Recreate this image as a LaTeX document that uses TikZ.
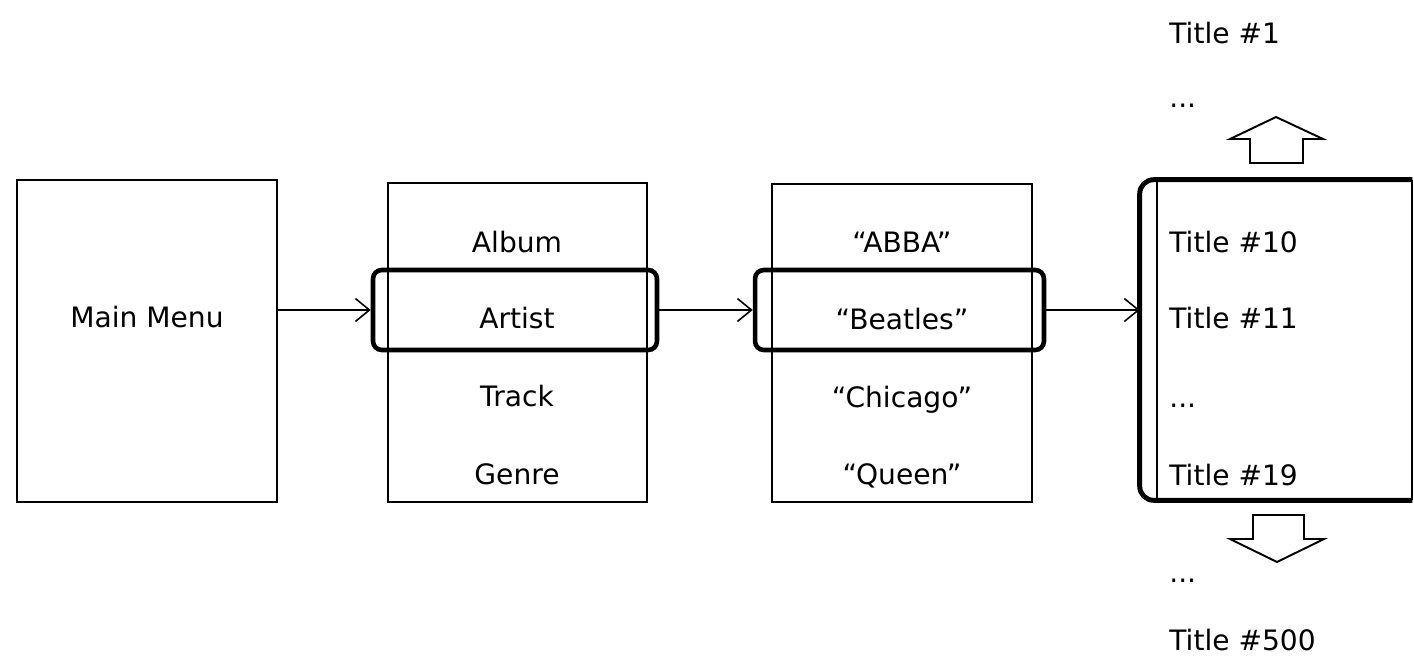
\documentclass[tikz,border=0pt]{standalone}
\usepackage{fontspec}
\setmainfont{DejaVu Sans}
\usetikzlibrary{arrows.meta}
\begin{document}
\begin{tikzpicture}[x=0.02cm,y=-0.02cm,
  font=\fontsize{16}{19}\selectfont,
  panel/.style={draw, line width=1.1pt, inner sep=0pt},
  pick/.style={draw, line width=2.6pt, rounded corners=5pt, inner sep=0pt},
  entry/.style={anchor=base, inner sep=0pt},
  title/.style={anchor=base west, inner sep=0pt},
  link/.style={line width=0.9pt, -{Straight Barb[length=8pt,width=13pt,line width=0.9pt]}},
  blockarrow/.style={draw, line width=1.1pt, line join=miter}]
\useasboundingbox (0,0) rectangle (1414,659);

% main menu
\node[panel, minimum width=5.2cm, minimum height=6.44cm] (main) at (147,341) {};
\node[entry] (maintxt) at (147,327) {Main Menu};

% category list
\node[panel, minimum width=5.18cm, minimum height=6.38cm] (cat) at (517.5,342.5) {};
\node[entry] (album)  at (517,252) {Album};
\node[entry] (artist) at (517,328) {Artist};
\node[entry] (track)  at (517,406) {Track};
\node[entry] (genre)  at (517,484) {Genre};
\node[pick, minimum width=5.68cm, minimum height=1.6cm] (pickcat) at (515,310) {};

% artist list
\node[panel, minimum width=5.2cm, minimum height=6.36cm] (art) at (902,343) {};
\node[entry] (abba)    at (902,252) {“ABBA”};
\node[entry] (beatles) at (902,329) {“Beatles”};
\node[entry] (chicago) at (902,407) {“Chicago”};
\node[entry] (queen)   at (902,484) {“Queen”};
\node[pick, minimum width=5.78cm, minimum height=1.6cm] (pickart) at (899.5,310) {};

% title list with scroll window
\node[panel, minimum width=5.1cm, minimum height=6.36cm] (titles) at (1284.5,340) {};
\node[inner sep=0pt, minimum width=5.44cm, minimum height=6.4cm] (window) at (1276,340) {};
\draw[line width=2.8pt, rounded corners=8pt]
  (window.north east) -- (window.north west) -- (window.south west) -- (window.south east);

\node[title] (t1)    at (1169,43)  {Title \#1};
\node[title] (dtop)  at (1169,107) {...};
\node[title] (t10)   at (1169,252) {Title \#10};
\node[title] (t11)   at (1169,328) {Title \#11};
\node[title] (dmid)  at (1169,407) {...};
\node[title] (t19)   at (1169,485) {Title \#19};
\node[title] (dbot)  at (1169,582) {...};
\node[title] (t500)  at (1169,650) {Title \#500};

% scroll arrows
\draw[blockarrow] (1276,117) -- (1323,139) -- (1303,139) -- (1303,163)
  -- (1250,163) -- (1250,139) -- (1230,139) -- cycle;
\draw[blockarrow] (1253,515) -- (1304,515) -- (1304,539) -- (1324,539)
  -- (1277,562) -- (1230,539) -- (1253,539) -- cycle;

% navigation
\draw[link] (pickcat.west -| main.east) -- (pickcat.west);
\draw[link] (pickcat.east) -- (pickart.west);
\draw[link] (pickart.east) -- (pickart.east -| window.west);
\end{tikzpicture}
\end{document}
